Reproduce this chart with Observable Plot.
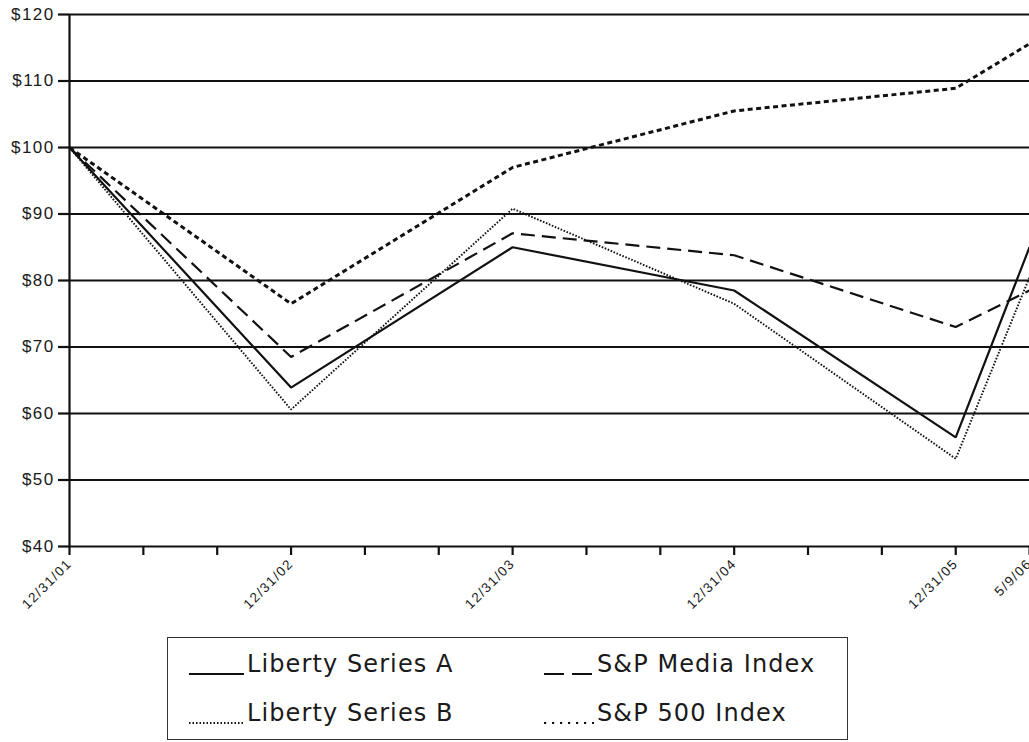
<!DOCTYPE html>
<html>
<head>
<meta charset="utf-8">
<script src="https://cdn.jsdelivr.net/npm/d3@7"></script>
<script src="https://cdn.jsdelivr.net/npm/@observablehq/plot@0.6"></script>
<style>
  body { margin: 0; background: #fff; }
  #wrap { position: relative; width: 1029px; height: 742px; overflow: hidden; background: #fff; }
  #chart svg { display: block; }
  #chart svg text { letter-spacing: 1.4px; }
  #legend {
    position: absolute; left: 167px; top: 637px; width: 679px; height: 101px;
    border: 1.5px solid #333; background: #fff;
    font-family: "DejaVu Sans", Verdana, sans-serif; font-size: 24px; color: #1a1a1a;
  }
  .item { position: absolute; display: flex; align-items: center; height: 30px; letter-spacing: 1.1px; }
  .item svg { display: block; margin-right: 3px; }
</style>
</head>
<body>
<div id="wrap">
  <div id="chart"></div>
  <div id="legend"></div>
</div>
<script>
// Period labels and their position in years from the base date
const dateLabels = ["12/31/01", "12/31/02", "12/31/03", "12/31/04", "12/31/05", "5/9/06"];
const periods = [0, 1, 2, 3, 4, 4.333];

// Value of a $100 investment on each date
const libertyA = [100, 63.9, 85.0, 78.5, 56.4, 85.0];
const libertyB = [100, 60.6, 90.8, 76.5, 53.2, 80.5];
const mediaIndex = [100, 68.5, 87.1, 83.8, 73.0, 78.5];
const sp500 = [100, 76.5, 97.0, 105.5, 108.9, 115.6];

const yTicks = [40, 50, 60, 70, 80, 90, 100, 110, 120];
const minorTicks = d3.range(0, 14).map(i => i / 3);

const series = [
  { name: "Liberty Series A", values: libertyA, dash: null, width: 2.2 },
  { name: "Liberty Series B", values: libertyB, dash: "1.6 1.6", width: 1.9 },
  { name: "S&P Media Index", values: mediaIndex, dash: "14 7", width: 2.2 },
  { name: "S&P 500 Index", values: sp500, dash: "5 3.5", width: 3 }
];

const rows = series.flatMap(s => periods.map((p, i) => ({ series: s.name, period: p, value: s.values[i] })));

const chart = Plot.plot({
  width: 1029,
  height: 632,
  marginLeft: 69,
  marginRight: 0,
  marginTop: 14,
  marginBottom: 86,
  style: { fontFamily: "'Liberation Sans', Arial, sans-serif", color: "#1a1a1a", background: "#fff" },
  x: { domain: [0, 4.333], axis: null, label: null },
  y: { domain: [40, 120], axis: null, label: null },
  marks: [
    Plot.ruleY(yTicks, { stroke: "#111", strokeWidth: 2.2 }),
    Plot.ruleX([0], { y1: 40, y2: 120, stroke: "#111", strokeWidth: 2.2 }),
    Plot.axisY(yTicks, {
      label: null, tickFormat: d => "$" + d, tickSize: 11, tickPadding: 4,
      fontSize: 17, stroke: "#111", strokeWidth: 2.2
    }),
    Plot.axisX(minorTicks, { label: null, tickSize: 9, tickFormat: () => "", stroke: "#111", strokeWidth: 2.2 }),
    Plot.axisX(periods, {
      label: null, tickSize: 9, strokeOpacity: 0, tickRotate: -45, tickPadding: 6, fontSize: 13.5,
      tickFormat: d => dateLabels[periods.indexOf(d)]
    }),
    ...series.map(s => Plot.line(rows.filter(r => r.series === s.name), {
      x: "period", y: "value", stroke: "#111", strokeWidth: s.width,
      strokeDasharray: s.dash, strokeLinejoin: "miter", strokeLinecap: "butt"
    }))
  ]
});
document.getElementById("chart").append(chart);

// Legend: two columns, two rows
const legend = document.getElementById("legend");
const slots = [
  { left: 21, top: 11, w: 55 },
  { left: 21, top: 60, w: 55 },
  { left: 376, top: 11, w: 50 },
  { left: 376, top: 60, w: 50 }
];
const ns = "http://www.w3.org/2000/svg";
const legendDash = {
  "Liberty Series A": null,
  "Liberty Series B": "1.5 2",
  "S&P Media Index": "20 8",
  "S&P 500 Index": "2.2 5.8"
};
series.forEach((s, k) => {
  const slot = slots[k];
  const item = document.createElement("div");
  item.className = "item";
  item.style.left = slot.left + "px";
  item.style.top = slot.top + "px";
  const svg = document.createElementNS(ns, "svg");
  svg.setAttribute("width", slot.w);
  svg.setAttribute("height", 30);
  const ln = document.createElementNS(ns, "line");
  ln.setAttribute("x1", 0); ln.setAttribute("x2", slot.w);
  ln.setAttribute("y1", 25); ln.setAttribute("y2", 25);
  ln.setAttribute("stroke", "#111");
  ln.setAttribute("stroke-width", s.name === "S&P 500 Index" ? 2.2 : s.width);
  if (legendDash[s.name]) ln.setAttribute("stroke-dasharray", legendDash[s.name]);
  svg.append(ln);
  const label = document.createElement("span");
  label.textContent = s.name;
  item.append(svg, label);
  legend.append(item);
});
</script>
</body>
</html>
